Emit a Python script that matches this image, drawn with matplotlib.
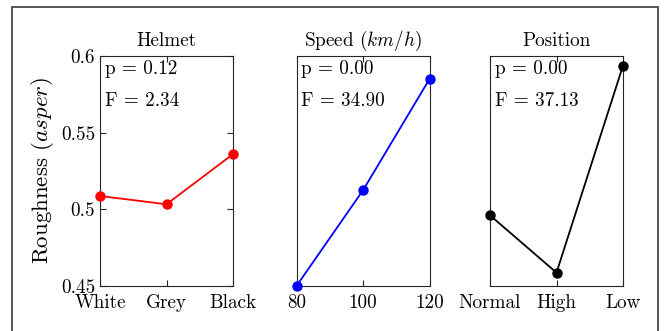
import matplotlib
matplotlib.use("Agg")
import matplotlib.pyplot as plt
from matplotlib.patches import Rectangle

plt.rcParams['font.family'] = 'serif'
plt.rcParams['font.serif'] = ['cmr10']
plt.rcParams['mathtext.fontset'] = 'cm'
plt.rcParams['axes.formatter.use_mathtext'] = True

# data
helmet_labels = ["White", "Grey", "Black"]
helmet_vals = [0.5087, 0.5033, 0.536]
speed_x = [80, 100, 120]
speed_vals = [0.4502, 0.5126, 0.5852]
position_labels = ["Normal", "High", "Low"]
position_vals = [0.4961, 0.4587, 0.5937]

titles = ["Helmet", r"Speed ($km/h$)", "Position"]
p_values = [0.12, 0.00, 0.00]
f_values = [2.34, 34.90, 37.13]
colors = ["#ff0000", "#0000ff", "#000000"]

y_ticks = [0.45, 0.5, 0.55, 0.6]
y_ticklabels = ["0.45", "0.5", "0.55", "0.6"]

fig = plt.figure(figsize=(6.66, 3.31), dpi=100)

# grey frame round the figure
fig.patches.append(Rectangle((12 / 666, -0.1), (658 - 12) / 666, 1.1 - 7 / 331,
                             transform=fig.transFigure, fill=False,
                             edgecolor="#3c3c3c", linewidth=1.2, clip_on=False))

lefts = [100 / 666, 296.7 / 666, 490 / 666]
bottom = 1 - 286 / 331
height = (286 - 56) / 331
width = 133 / 666
fs = 13.8

xs = [[1, 2, 3], speed_x, [1, 2, 3]]
ys = [helmet_vals, speed_vals, position_vals]
xlabels = [helmet_labels, ["80", "100", "120"], position_labels]

for i in range(3):
    ax = fig.add_axes([lefts[i], bottom, width, height])
    ax.plot(xs[i], ys[i], "-o", color=colors[i], lw=1.3, ms=6.5, clip_on=False, zorder=3)
    ax.set_xlim(xs[i][0], xs[i][-1])
    ax.set_ylim(0.45, 0.6)
    ax.set_xticks(xs[i])
    ax.set_xticklabels(xlabels[i])
    if i == 0:
        ax.set_yticks(y_ticks)
        ax.set_yticklabels(y_ticklabels)
        ax.set_ylabel(r"Roughness ($asper$)", fontsize=16.5, labelpad=3.5)
        ax.tick_params(axis="y", which="both", direction="in", left=True, right=True,
                       length=4, width=0.8, color="#262626", pad=3.5, labelsize=fs)
    else:
        ax.set_yticks([])
    ax.tick_params(axis="x", which="both", direction="in", top=True, bottom=True,
                   length=4, width=0.8, color="#262626", pad=6, labelsize=fs)
    for s in ax.spines.values():
        s.set_color("#262626")
        s.set_linewidth(0.8)
    ax.set_title(titles[i], fontsize=fs, pad=7)
    ax.text(0.035, 0.942, "p = %.2f" % p_values[i], transform=ax.transAxes,
            fontsize=fs, va="center", ha="left")
    ax.text(0.035, 0.805, "F = %.2f" % f_values[i], transform=ax.transAxes,
            fontsize=fs, va="center", ha="left")

fig.savefig("out.png", dpi=100)
